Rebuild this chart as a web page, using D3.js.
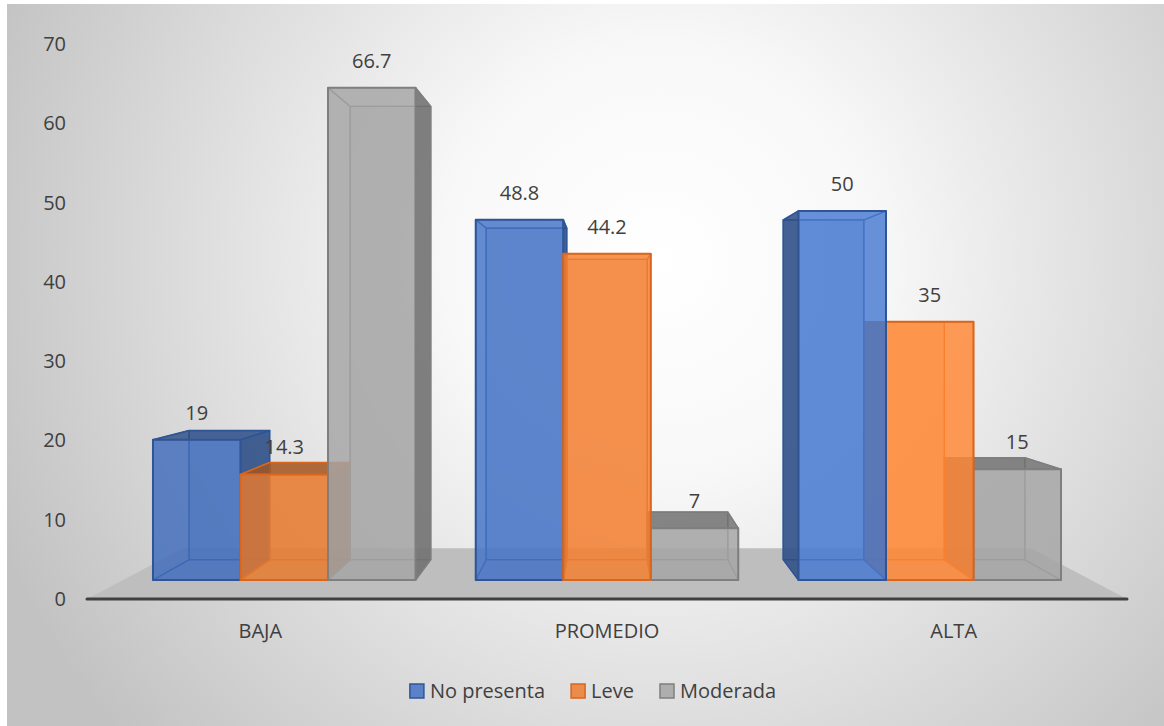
<!DOCTYPE html>
<html>
<head>
<meta charset="utf-8">
<script src="https://cdn.jsdelivr.net/npm/d3@7"></script>
<style>
  body { margin: 0; background: #ffffff; }
  svg { display: block; font-family: "Open Sans", "Noto Sans", sans-serif; }
</style>
</head>
<body>
<svg id="chart" width="1164" height="726"></svg>
<script>
// ---- data ----
const categories = ["BAJA", "PROMEDIO", "ALTA"];
const seriesNames = ["No presenta", "Leve", "Moderada"];
const noPresenta = [19, 48.8, 50];
const leve = [14.3, 44.2, 35];
const moderada = [66.7, 7, 15];
const yTicks = [0, 10, 20, 30, 40, 50, 60, 70];

const seriesValues = [noPresenta, leve, moderada];
const fills = ["#4472c4", "#ed7d31", "#a5a5a5"];
const edges = ["#2f5597", "#d9661c", "#7f7f7f"];
const FS = 20;

const W = 1164, H = 726;
const svg = d3.select("#chart");
const defs = svg.append("defs");

// soft radial backdrop
const bg = defs.append("radialGradient")
  .attr("id", "bg").attr("gradientUnits", "userSpaceOnUse")
  .attr("cx", 660).attr("cy", 260).attr("r", 720);
bg.append("stop").attr("offset", "0").attr("stop-color", "#ffffff");
bg.append("stop").attr("offset", "0.3").attr("stop-color", "#f8f8f8");
bg.append("stop").attr("offset", "1").attr("stop-color", "#c2c2c2");

svg.append("rect").attr("x", 7).attr("y", 4)
  .attr("width", W - 7).attr("height", H - 4)
  .attr("fill", "url(#bg)");

// ---- scales (front plane of the floor) ----
const y = d3.scaleLinear().domain([0, 70]).range([599, 44]);
const x0 = d3.scaleBand().domain(categories).range([87, 1127]);
const x1 = d3.scaleBand().domain(seriesNames).range([0, x0.bandwidth()]).paddingOuter(0.344);

// one-point perspective: every depth plane is a scaling about the vanishing point
const vp = [(x0.range()[0] + x0.range()[1]) / 2, 324];
const kFront = 0.931, kBack = 0.857, kFloor = 0.815;
const proj = (X, Y, k) => [vp[0] + k * (X - vp[0]), vp[1] + k * (Y - vp[1])];
const pts = arr => arr.map(p => p.join(",")).join(" ");

// floor
const [xa, xb] = x0.range();
svg.append("polygon")
  .attr("points", pts([proj(xa, y(0), 1), proj(xb, y(0), 1), proj(xb, y(0), kFloor), proj(xa, y(0), kFloor)]))
  .attr("fill", "#bebebe");

// axis line
svg.append("line")
  .attr("x1", xa).attr("x2", xb).attr("y1", y(0)).attr("y2", y(0))
  .attr("stroke", "#404040").attr("stroke-width", 3).attr("stroke-linecap", "round");

// y tick labels
svg.append("g").selectAll("text").data(yTicks).join("text")
  .attr("x", 66).attr("y", d => y(d)).attr("dy", "0.35em")
  .attr("text-anchor", "end").attr("font-size", FS).attr("fill", "#404040")
  .text(d => d);

// category labels
svg.append("g").selectAll("text").data(categories).join("text")
  .attr("x", d => x0(d) + x0.bandwidth() / 2).attr("y", 631).attr("dy", "0.35em")
  .attr("text-anchor", "middle").attr("font-size", FS).attr("fill", "#404040")
  .text(d => d);

// ---- bars ----
const bars = [];
categories.forEach((c, i) => {
  seriesNames.forEach((s, j) => {
    const X0 = x0(c) + x1(s), X1 = X0 + x1.bandwidth();
    bars.push({ i, j, v: seriesValues[j][i], X0, X1, cx: (X0 + X1) / 2 });
  });
});
// farther from the vanishing line first
bars.sort((a, b) => Math.abs(b.cx - vp[0]) - Math.abs(a.cx - vp[0]));

// light falls from the right: faces brighten slightly toward the right
const light = cx => -0.15 + 0.45 * (cx - xa) / (xb - xa);

const barLayer = svg.append("g");
bars.forEach(b => {
  const yt = y(b.v), yb = y(0);
  const F = [proj(b.X0, yb, kFront), proj(b.X1, yb, kFront), proj(b.X1, yt, kFront), proj(b.X0, yt, kFront)];
  const B = [proj(b.X0, yb, kBack), proj(b.X1, yb, kBack), proj(b.X1, yt, kBack), proj(b.X0, yt, kBack)];
  const lk = b.j === 2 ? 0 : light(b.cx);
  const base = (lk >= 0 ? d3.color(fills[b.j]).brighter(lk) : d3.color(fills[b.j]).darker(-lk)).formatHex();
  const edge = edges[b.j];
  const shade = d3.color(fills[b.j]).darker(1.1).formatHex();
  const g = barLayer.append("g");
  const face = (p, fill, op, sw) => g.append("polygon")
    .attr("points", pts(p)).attr("fill", fill).attr("fill-opacity", op)
    .attr("stroke", edge).attr("stroke-width", sw).attr("stroke-linejoin", "round");

  const rightVisible = b.X1 < vp[0];
  const leftVisible = b.X0 > vp[0];
  const topVisible = yt > vp[1];

  face(B, base, 0.35, 1.2);
  face([F[0], F[1], B[1], B[0]], base, 0.25, 1.2);
  if (!rightVisible) face([F[1], F[2], B[2], B[1]], base, 0.15, 1.2);
  if (!leftVisible) face([F[0], F[3], B[3], B[0]], base, 0.15, 1.2);
  if (!topVisible) face([F[3], F[2], B[2], B[3]], base, 0.15, 1.2);
  if (rightVisible) face([F[1], F[2], B[2], B[1]], shade, 0.85, 1.5);
  if (leftVisible) face([F[0], F[3], B[3], B[0]], shade, 0.85, 1.5);
  if (topVisible) face([F[3], F[2], B[2], B[3]], shade, 0.8, 1.5);
  face(F, base, 0.8, 2);
});

// value labels above each front face
svg.append("g").selectAll("text").data(bars).join("text")
  .attr("x", d => proj(d.cx, y(d.v), kFront)[0])
  .attr("y", d => proj(d.cx, y(d.v), kFront)[1] - 27)
  .attr("dy", "0.35em").attr("text-anchor", "middle")
  .attr("font-size", FS).attr("fill", "#404040")
  .text(d => d.v);

// ---- legend ----
const legend = svg.append("g");
let lx = 0;
seriesNames.forEach((s, j) => {
  const g = legend.append("g");
  g.append("rect").attr("x", 0).attr("y", -7).attr("width", 14).attr("height", 14)
    .attr("fill", fills[j]).attr("fill-opacity", 0.85)
    .attr("stroke", edges[j]).attr("stroke-width", 1.5);
  const t = g.append("text").attr("x", 20).attr("dy", "0.35em")
    .attr("font-size", FS).attr("fill", "#404040").text(s);
  const w = 20 + t.node().getComputedTextLength();
  g.attr("transform", `translate(${lx},0)`);
  lx += w + 26;
});
const total = lx - 26;
legend.attr("transform", `translate(${593 - total / 2},691)`);
</script>
</body>
</html>
